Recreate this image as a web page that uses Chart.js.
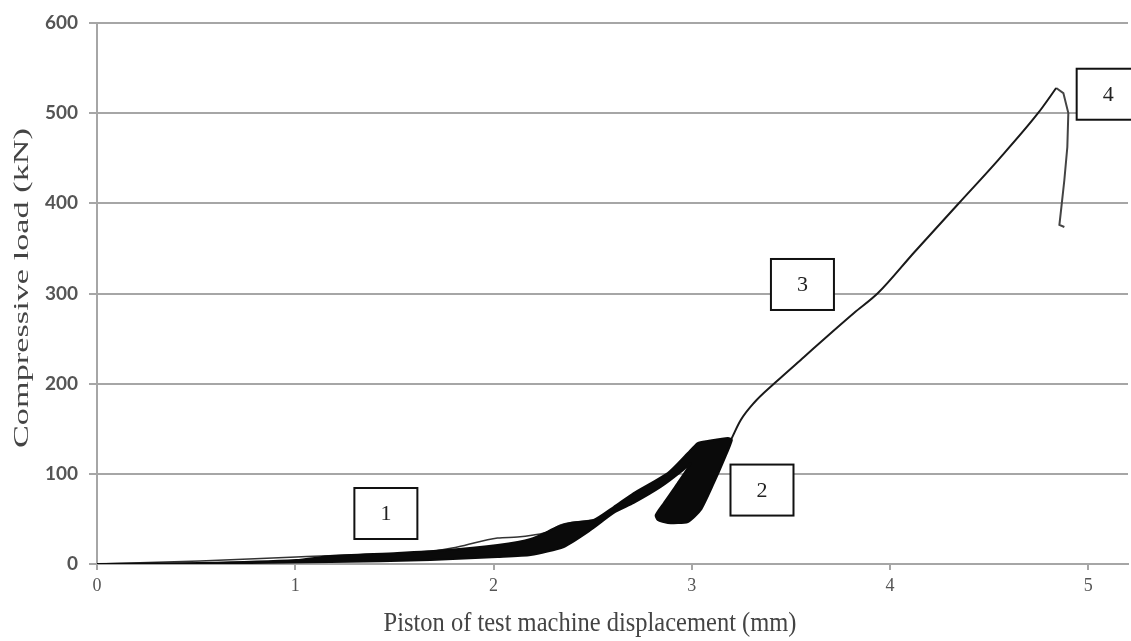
<!DOCTYPE html>
<html>
<head>
<meta charset="utf-8">
<script src="https://cdn.jsdelivr.net/npm/chart.js@4.4.1/dist/chart.umd.min.js"></script>
<style>
  body { margin: 0; background: #fff; }
  #wrap { width: 1131px; height: 641px; position: relative; }
</style>
</head>
<body>
<div id="wrap"><canvas id="chart"></canvas></div>
<script>
// values (displacement in mm, load in kN)
const xTickValues = [0, 1, 2, 3, 4, 5];
const yTickValues = [0, 100, 200, 300, 400, 500, 600];

// outline of the dense cyclic part (stages 1 and 2), walked round as a closed shape
const cycleX = [0, 0.52, 1.005, 1.177, 1.515, 1.768, 2.02, 2.187, 2.323, 2.389, 2.505, 2.606, 2.707, 2.879, 2.98, 3.03, 3.081, 3.182, 3.202,
  3.162, 3.111, 3.045, 2.98, 2.879, 2.828, 2.818, 2.859, 2.929, 2.995,
  2.944, 2.843, 2.707, 2.606, 2.49, 2.354, 2.187, 2.02, 1.682, 1.177, 0.556, 0];
const cycleY = [0, 1.1, 4.4, 8.9, 12.2, 15.5, 21.1, 27.7, 41.0, 45.5, 48.8, 63.2, 78.7, 100.9, 123.1, 134.2, 136.4, 139.7, 137.5,
  115.3, 89.8, 59.9, 46.6, 45.5, 48.8, 54.3, 67.7, 89.8, 112.0,
  102.0, 85.4, 67.7, 56.6, 37.7, 18.9, 10.0, 7.8, 4.4, 2.2, 0.6, 0];

// the one loose upper cycle above the band
const upperX = [0, 0.52, 1.005, 1.278, 1.631, 1.818, 2.02, 2.121, 2.202, 2.273, 2.338, 2.505];
const upperY = [0, 3.3, 7.8, 10.0, 12.2, 18.9, 28.8, 29.9, 32.2, 35.5, 43.3, 48.8];

// stage 3: monotonic loading up to the peak
const loadX = [3.197, 3.247, 3.313, 3.424, 3.566, 3.702, 3.818, 3.939, 4.121, 4.348, 4.545, 4.747, 4.838];
const loadY = [137.5, 159.7, 178.6, 201.8, 229.6, 256.2, 278.4, 300.5, 345.5, 400.4, 448.0, 500.2, 527.9];

// stage 4: post-peak drop
const dropX = [4.838, 4.874, 4.899, 4.894, 4.879, 4.864, 4.854, 4.879];
const dropY = [527.9, 522.3, 500.2, 462.5, 425.9, 395.9, 376.0, 373.7];

// numbered boxes (centre in data units)
const stageLabels = ["1", "2", "3", "4"];
const stageX = [1.457, 3.354, 3.558, 5.1];
const stageY = [56, 82, 310, 521];

const xTitle = "Piston of test machine displacement (mm)";
const yTitle = "Compressive load (kN)";

const pts = (xs, ys) => xs.map((x, i) => ({ x: x, y: ys[i] }));

const stageBoxes = {
  id: "stageBoxes",
  afterDatasetsDraw(chart) {
    const { ctx, scales } = chart;
    ctx.save();
    for (let i = 0; i < stageLabels.length; i++) {
      const cx = scales.x.getPixelForValue(stageX[i]);
      const cy = scales.y.getPixelForValue(stageY[i]);
      const w = 63, h = 51;
      ctx.fillStyle = "#fff";
      ctx.fillRect(cx - w / 2, cy - h / 2, w, h);
      ctx.lineWidth = 2;
      ctx.strokeStyle = "#111";
      ctx.strokeRect(cx - w / 2, cy - h / 2, w, h);
      ctx.fillStyle = "#222";
      ctx.font = "22px 'Liberation Serif'";
      ctx.textAlign = "center";
      ctx.textBaseline = "middle";
      ctx.fillText(stageLabels[i], cx, cy + 1);
    }
    ctx.restore();
  },
};

// axis titles: the source picture is stretched vertically, so stretch the text the same way
const axisTitles = {
  id: "axisTitles",
  afterDraw(chart) {
    const { ctx } = chart;
    ctx.save();
    ctx.fillStyle = "#444";
    ctx.textAlign = "center";
    ctx.textBaseline = "middle";
    ctx.font = "22px 'Liberation Serif'";

    let w = ctx.measureText(xTitle).width;
    ctx.save();
    ctx.translate(590, 624);
    ctx.scale(413 / w, 1.25);
    ctx.fillText(xTitle, 0, 0);
    ctx.restore();

    w = ctx.measureText(yTitle).width;
    ctx.save();
    ctx.translate(22, 288);
    ctx.rotate(-Math.PI / 2);
    ctx.scale(320 / w, 1);
    ctx.fillText(yTitle, 0, 0);
    ctx.restore();
    ctx.restore();
  },
};

new Chart(document.getElementById("chart"), {
  type: "scatter",
  data: {
    datasets: [
      {
        data: pts(cycleX, cycleY),
        showLine: true,
        fill: "shape",
        backgroundColor: "#0a0a0a",
        borderColor: "#0a0a0a",
        borderWidth: 2,
        pointRadius: 0,
        tension: 0.2,
      },
      {
        data: pts(upperX, upperY),
        showLine: true,
        borderColor: "#333",
        borderWidth: 1.5,
        pointRadius: 0,
        cubicInterpolationMode: "monotone",
      },
      {
        data: pts(loadX, loadY),
        showLine: true,
        borderColor: "#1a1a1a",
        borderWidth: 2,
        pointRadius: 0,
        cubicInterpolationMode: "monotone",
      },
      {
        data: pts(dropX, dropY),
        showLine: true,
        borderColor: "#444",
        borderWidth: 2,
        pointRadius: 0,
        tension: 0,
      },
    ],
  },
  options: {
    responsive: true,
    maintainAspectRatio: false,
    animation: false,
    layout: { padding: { top: 23, right: 3, left: 0, bottom: 0 } },
    plugins: { legend: { display: false }, tooltip: { enabled: false } },
    scales: {
      x: {
        type: "linear",
        min: 0,
        max: 5.2,
        afterBuildTicks: (s) => {
          s.ticks = xTickValues.map((v) => ({ value: v }));
        },
        afterFit: (s) => {
          s.height = 77;
        },
        grid: { drawOnChartArea: false, color: "#a6a6a6", lineWidth: 2, tickLength: 6 },
        border: { color: "#a6a6a6", width: 2 },
        ticks: {
          color: "#555",
          padding: 5,
          font: { family: "'Liberation Serif'", size: 18 },
        },
      },
      y: {
        type: "linear",
        min: 0,
        max: 600,
        afterBuildTicks: (s) => {
          s.ticks = yTickValues.map((v) => ({ value: v }));
        },
        afterFit: (s) => {
          s.width = 97;
        },
        grid: { color: "#a6a6a6", lineWidth: 2, tickLength: 8 },
        border: { color: "#a6a6a6", width: 2 },
        ticks: {
          color: "#555",
          padding: 11,
          font: { family: "Lato", size: 19, weight: "bold" },
        },
      },
    },
  },
  plugins: [stageBoxes, axisTitles],
});
</script>
</body>
</html>
